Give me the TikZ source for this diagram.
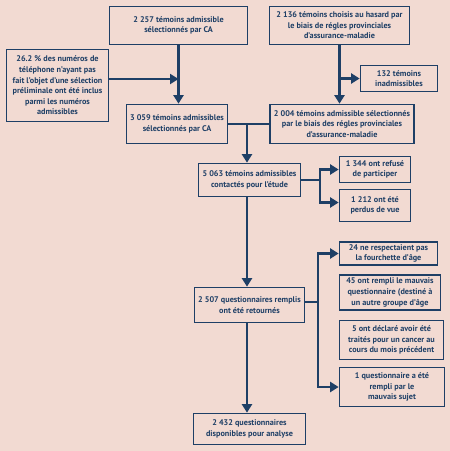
\documentclass[tikz,border=0pt]{standalone}
\usepackage{fontspec}
\setmainfont{PT Sans}
\usetikzlibrary{arrows.meta}

\definecolor{bgpink}{HTML}{F2DAD2}
\definecolor{navy}{HTML}{1E3F66}

\begin{document}
\begin{tikzpicture}[x=1pt, y=-1pt, line join=miter,
    box/.style={draw=navy, line width=1.7pt, fill=bgpink, text=navy,
        font=\fontsize{8.2}{10.6}\selectfont\bfseries, align=center, inner sep=0pt},
    link/.style={draw=navy, line width=2.6pt},
    arr/.style={link, -{Triangle[length=8.5pt, width=10pt]}}]

    % ── Page (pixel grid of the reference, y downwards) ─────────────────────
    \useasboundingbox[fill=bgpink] (0,0) rectangle (450,451);

    % ── Top row ───────────────────────────────────────────────────────────────
    \node[box, minimum width=138pt, minimum height=38pt] (ca1) at (178.5, 25.5)
        {2~257 témoins admissible\\sélectionnés par CA};
    \node[box, minimum width=140pt, minimum height=38pt] (prov1) at (339.5, 25.5)
        {2~136 témoins choisis au hasard par\\le biais de régles provinciales\\d’assurance-maladie};
    \node[box, minimum width=102pt, minimum height=72pt] (tel) at (57.5, 85.5)
        {26.2~\% des numéros de\\téléphone n’ayant pas\\fait l’objet d’une sélection\\préliminale ont été inclus\\parmi les numéros\\admissibles};
    \node[box, minimum width=77pt, minimum height=26pt] (inadm) at (399, 78.5)
        {132 témoins\\inadmissibles};

    % ── Second row ────────────────────────────────────────────────────────────
    \node[box, minimum width=101pt, minimum height=39pt] (ca2) at (177, 124)
        {3~059 témoins admissibles\\sélectionnés par CA};
    \node[box, minimum width=144pt, minimum height=39pt] (prov2) at (342, 124)
        {2~004 témoins admissible sélectionnés\\par le biais des régles provinciales\\d’assurance-maladie};

    % ── Contacts ──────────────────────────────────────────────────────────────
    \node[box, minimum width=102pt, minimum height=33pt] (contact) at (249.5, 180)
        {5~063 témoins admissibles\\contactés pour l’étude};
    \node[box, minimum width=71pt, minimum height=26pt] (refus) at (375, 169.5)
        {1~344 ont refusé\\de participer};
    \node[box, minimum width=71pt, minimum height=32pt] (perdus) at (375, 205.5)
        {1~212 ont été\\perdus de vue};

    % ── Questionnaires ────────────────────────────────────────────────────────
    \node[box, minimum width=110pt, minimum height=35pt] (retour) at (249.5, 305)
        {2~507 questionnaires remplis\\ont été retournés};
    \node[box, minimum width=98pt, minimum height=23pt] (age) at (388.5, 253.5)
        {24 ne respectaient pas\\la fourchette d’âge};
    \node[box, minimum width=101pt, minimum height=35pt] (mauvais) at (390, 292.5)
        {45 ont rempli le mauvais\\questionnaire (destiné à\\un autre groupe d’âge};
    \node[box, minimum width=104pt, minimum height=39pt] (cancer) at (391.5, 340)
        {5 ont déclaré avoir été\\traités pour un cancer au\\cours du mois précédent};
    \node[box, minimum width=105pt, minimum height=39pt] (sujet) at (392, 387)
        {1 questionnaire a été\\rempli par le\\mauvais sujet};
    \node[box, minimum width=112pt, minimum height=31pt] (final) at (249.5, 429)
        {2~432 questionnaires\\disponibles pour analyse};

    % ── Connectors ────────────────────────────────────────────────────────────
    \coordinate (mid) at (247, 124);    % trunk of the main column
    \coordinate (forkG) at (320, 180);  % fork after the contacts
    \coordinate (forkK) at (318, 302);  % fork after the returns

    \draw[arr] (ca1.south) -- (ca1.south |- ca2.north);
    \draw[arr] (tel.east |- 0,79) -- (ca1.south |- 0,79);
    \draw[arr] (prov1.south) -- (prov1.south |- prov2.north);
    \draw[arr] (prov1.south |- inadm.west) -- (inadm.west);
    \draw[link] (ca2.east) -- (prov2.west);
    \draw[arr] (mid) -- (mid |- contact.north);

    \draw[link] (contact.east) -- (forkG);
    \draw[arr] (forkG) |- (refus.west);
    \draw[arr] (forkG) |- ([yshift=3pt]perdus.west);
    \draw[arr] (mid |- contact.south) -- (mid |- retour.north);

    \draw[link] (retour.east |- forkK) -- (forkK);
    \draw[arr] (forkK) |- (age.west);
    \draw[arr] (forkK) |- (sujet.west);
    \draw[arr] (mid |- retour.south) -- (mid |- final.north);

\end{tikzpicture}
\end{document}
